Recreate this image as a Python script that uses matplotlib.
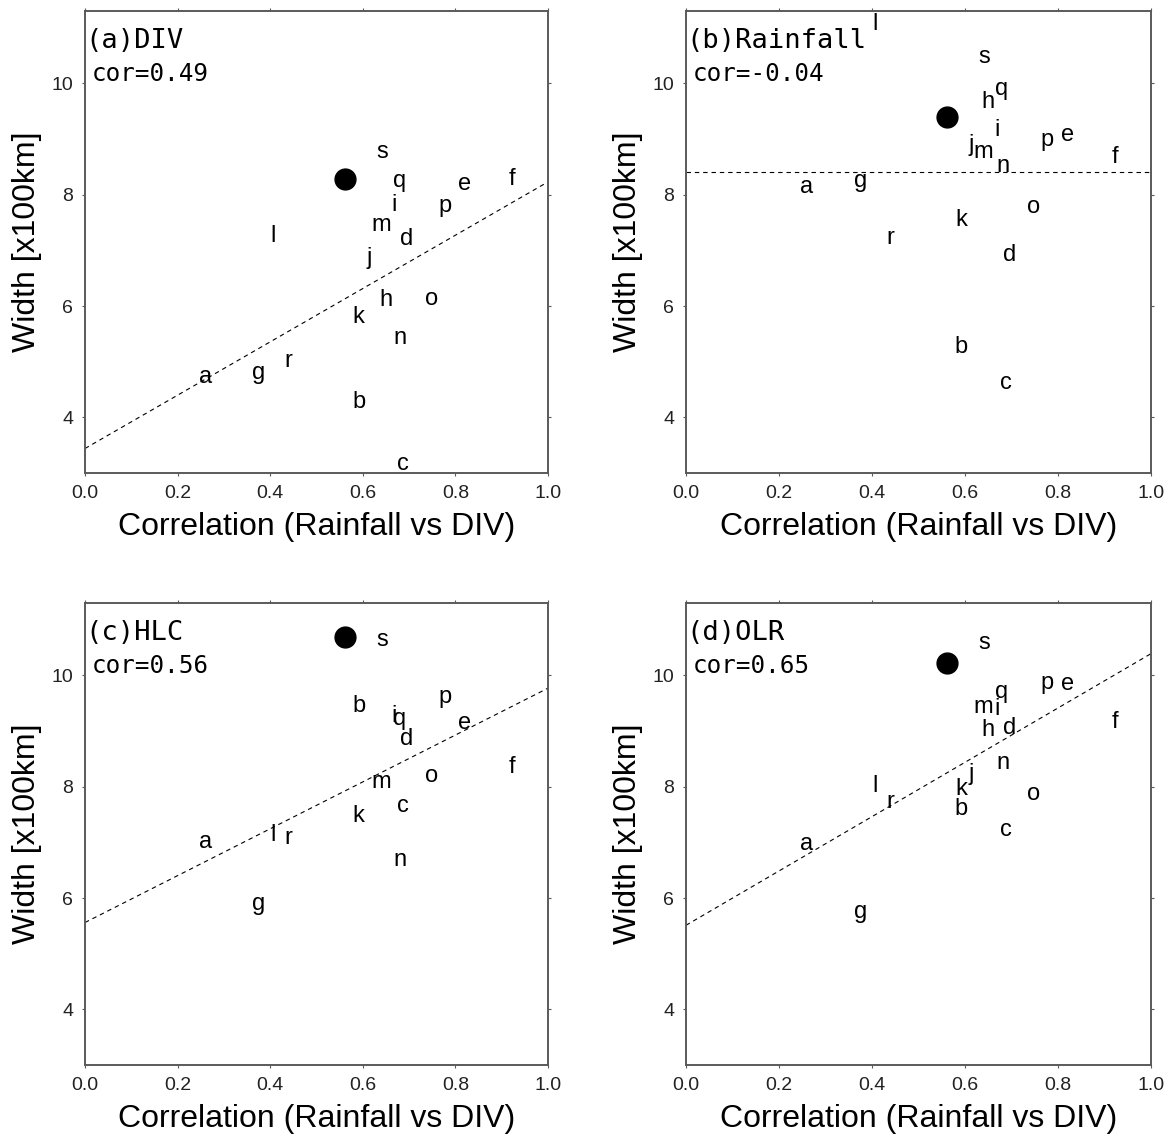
import numpy as np
import matplotlib.pyplot as plt

# ------------------------------------------------------------------
# data
# ------------------------------------------------------------------
letters = list('abcdefghijklmnopqrs')

# x: correlation Rainfall vs DIV (same for all panels)
corr_x = [0.260, 0.591, 0.687, 0.695, 0.820, 0.922, 0.375, 0.649, 0.668, 0.614,
          0.591, 0.406, 0.640, 0.681, 0.748, 0.777, 0.679, 0.439, 0.641]

# y: width [x100km] per panel
width_div = [4.72, 4.27, 3.16, 7.20, 8.20, 8.29, 4.80, 6.10, 7.82, 6.87,
             5.80, 7.26, 7.46, 5.42, 6.13, 7.79, 8.25, 5.02, 8.77]
width_rain = [8.13, 5.27, 4.61, 6.92, 9.07, 8.68, 8.25, 9.67, 9.16, 8.89,
              7.55, 11.07, 8.77, 8.52, 7.78, 8.99, 9.90, 7.22, 10.48]
# h and j fall outside the plotted range in (c)
width_hlc = [7.01, 9.45, 7.66, 8.85, 9.14, 8.35, 5.89, np.nan, 9.27, np.nan,
             7.47, 7.13, 8.09, 6.68, 8.20, 9.61, 9.22, 7.07, 10.64]
width_olr = [6.97, 7.60, 7.22, 9.06, 9.85, 9.16, 5.75, 9.02, 9.40, 8.22,
             7.95, 8.01, 9.43, 8.43, 7.86, 9.86, 9.70, 7.73, 10.59]

# big black dot
dot_x = 0.562
dot_width = [8.29, 9.39, 10.69, 10.23]

panel_titles = ['(a)DIV', '(b)Rainfall', '(c)HLC', '(d)OLR']
panel_cor = ['cor=0.49', 'cor=-0.04', 'cor=0.56', 'cor=0.65']

# dashed regression lines
fit_intercept = [3.44, 8.40, 5.56, 5.51]
fit_slope = [4.79, 0.0, 4.21, 4.88]

x_ticks = [0.0, 0.2, 0.4, 0.6, 0.8, 1.0]
y_ticks = [4, 6, 8, 10]

panel_widths = [width_div, width_rain, width_hlc, width_olr]

# ------------------------------------------------------------------
# figure
# ------------------------------------------------------------------
plt.rcParams['font.family'] = ['Liberation Sans', 'DejaVu Sans']

W, H = 1170, 1137
fig = plt.figure(figsize=(W / 100, H / 100), dpi=100)

# axes boxes in pixels: left, top, right, bottom
boxes = [(85, 11, 548, 473), (686, 11, 1151, 473),
         (85, 603, 548, 1065), (686, 603, 1151, 1065)]

frame_col = '#5a5a5a'

for i, (l, t, r, b) in enumerate(boxes):
    ax = fig.add_axes([l / W, 1 - b / H, (r - l) / W, (b - t) / H])
    ax.set_xlim(0, 1)
    ax.set_ylim(3.0, 11.3)

    # regression line
    xx = np.array([0.0, 1.0])
    ax.plot(xx, fit_intercept[i] + fit_slope[i] * xx, color='black', lw=0.8,
            dashes=(4, 3.5), zorder=1)

    # letters
    for lab, xv, yv in zip(letters, corr_x, panel_widths[i]):
        if np.isnan(yv):
            continue
        ax.text(xv, yv, lab, fontsize=17, ha='center', va='center',
                color='black', clip_on=True, zorder=3)

    # black dot
    ax.plot([dot_x], [dot_width[i]], 'o', color='black', ms=15, zorder=4)

    # title + correlation text
    ax.text(0.0, 0.964, panel_titles[i], transform=ax.transAxes,
            family='DejaVu Sans Mono', fontsize=19.5, ha='left', va='top')
    ax.text(0.015, 0.890, panel_cor[i], transform=ax.transAxes,
            family='DejaVu Sans Mono', fontsize=17.5, ha='left', va='top')

    ax.set_xticks(x_ticks)
    ax.set_xticklabels([f'{v:.1f}' for v in x_ticks])
    ax.set_yticks(y_ticks)
    ax.tick_params(direction='out', length=2.5, width=0.8, color=frame_col,
                   labelsize=14, labelcolor='#222222', pad=6,
                   top=True, right=True)
    for sp in ax.spines.values():
        sp.set_color(frame_col)
        sp.set_linewidth(1.4)

    ax.set_xlabel('Correlation (Rainfall vs DIV)', fontsize=23)
    ax.set_ylabel('Width [x100km]', fontsize=23)
    ax.xaxis.set_label_coords(0.5, -0.085)
    ax.yaxis.set_label_coords(-0.092, 0.5)

fig.savefig('out.png', dpi=100)
